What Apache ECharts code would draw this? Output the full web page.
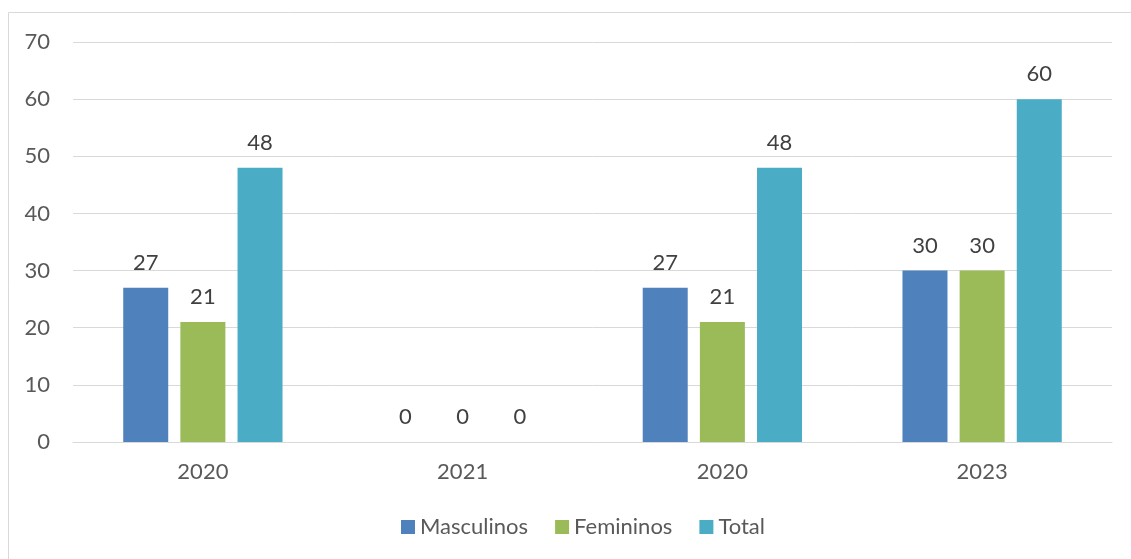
<!DOCTYPE html>
<html>
<head>
<meta charset="utf-8">
<script src="https://cdn.jsdelivr.net/npm/echarts@6/dist/echarts.min.js"></script>
<style>
  html, body { margin: 0; padding: 0; background: #ffffff; }
  #chart { width: 1131px; height: 559px; }
</style>
</head>
<body>
<div id="chart"></div>
<script>
// Years on the horizontal axis (the third group repeats 2020)
const categories = ['2020', '2021', '2020', '2023'];
const masculinos = [27, 0, 27, 30];
const femininos = [21, 0, 21, 30];
const total = [48, 0, 48, 60];
const seriesNames = ['Masculinos', 'Femininos', 'Total'];

const FONT = 'Lato, "Open Sans", sans-serif';
const SIZE = 22;
const TEXT = '#595959';

const chart = echarts.init(document.getElementById('chart'), null, { renderer: 'canvas' });

function barSeries(name, data, color) {
  return {
    name: name,
    type: 'bar',
    data: data,
    barWidth: 45,
    barGap: '27%',
    itemStyle: { color: color },
    label: {
      show: true,
      position: 'top',
      distance: 14,
      color: '#404040',
      fontFamily: FONT,
      fontSize: SIZE
    }
  };
}

chart.setOption({
  animation: false,
  backgroundColor: '#ffffff',
  graphic: [{
    type: 'rect',
    shape: { x: 8.5, y: 12.5, width: 1200, height: 600 },
    style: { fill: 'none', stroke: '#D9D9D9', lineWidth: 1 },
    silent: true,
    z: -1
  }],
  grid: { left: 73, right: 19, top: 42, bottom: 117, containLabel: false },
  legend: {
    data: seriesNames,
    bottom: 16,
    left: 396,
    icon: 'rect',
    itemWidth: 14,
    itemHeight: 14,
    itemGap: 27,
    textStyle: { color: TEXT, fontFamily: FONT, fontSize: SIZE }
  },
  xAxis: {
    type: 'category',
    data: categories,
    axisLine: { lineStyle: { color: '#D9D9D9', width: 1 } },
    axisTick: { show: false },
    axisLabel: { color: TEXT, fontFamily: FONT, fontSize: SIZE, margin: 19 }
  },
  yAxis: {
    type: 'value',
    min: 0,
    max: 70,
    interval: 10,
    axisLine: { show: false },
    axisTick: { show: false },
    splitLine: { lineStyle: { color: '#D9D9D9', width: 1 } },
    axisLabel: { color: TEXT, fontFamily: FONT, fontSize: SIZE, margin: 23 }
  },
  series: [
    barSeries(seriesNames[0], masculinos, '#4F81BD'),
    barSeries(seriesNames[1], femininos, '#9BBB59'),
    barSeries(seriesNames[2], total, '#4BACC6')
  ]
});
</script>
</body>
</html>
